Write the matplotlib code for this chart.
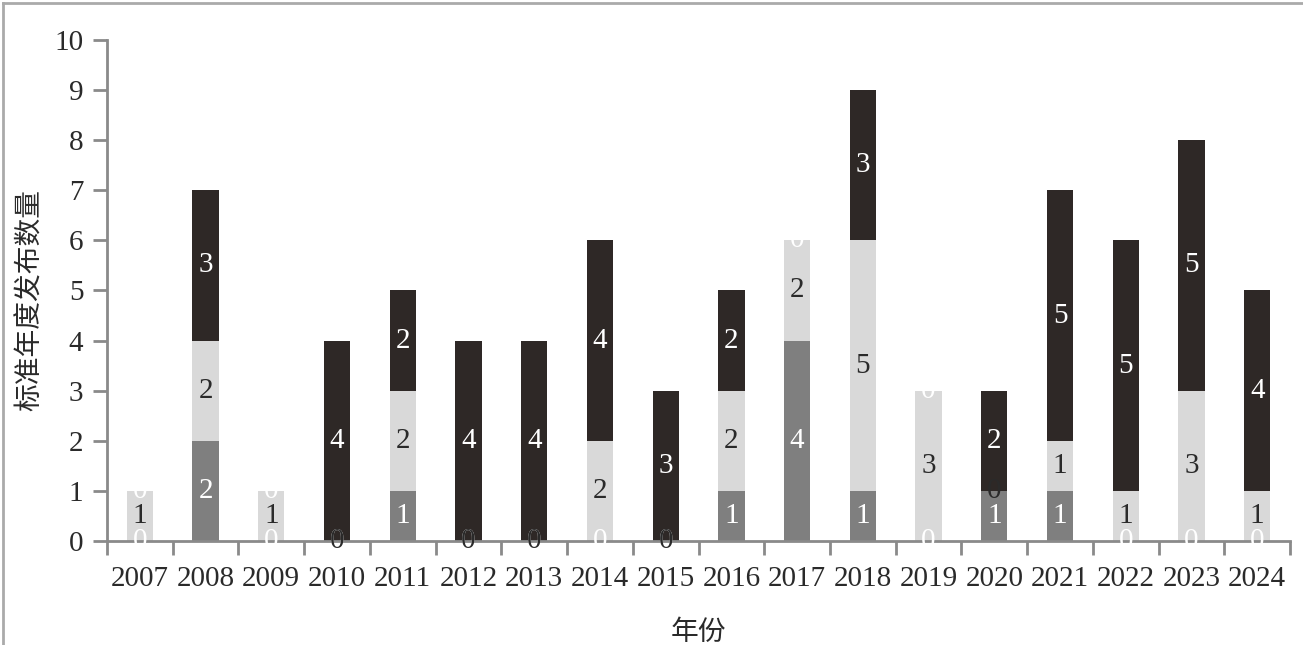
import numpy as np
import matplotlib
matplotlib.use("Agg")
import matplotlib.pyplot as plt
from matplotlib.lines import Line2D

plt.rcParams['font.family'] = ['Liberation Serif', 'Noto Sans CJK SC', 'DejaVu Sans']

years = ['2007', '2008', '2009', '2010', '2011', '2012', '2013', '2014', '2015',
         '2016', '2017', '2018', '2019', '2020', '2021', '2022', '2023', '2024']
# three stacked series, bottom to top
bottom_vals = [0, 2, 0, 0, 1, 0, 0, 0, 0, 1, 4, 1, 0, 1, 1, 0, 0, 0]
middle_vals = [1, 2, 1, 0, 2, 0, 0, 2, 0, 2, 2, 5, 3, 0, 1, 1, 3, 1]
top_vals = [0, 3, 0, 4, 2, 4, 4, 4, 3, 2, 0, 3, 0, 2, 5, 5, 5, 4]

colors = ['#7f7f7f', '#d9d9d9', '#2e2826']
text_colors = ['white', '#2a2a2a', 'white']
axis_color = '#8a8a8a'
fs = 21

fig = plt.figure(figsize=(13.03, 6.45), dpi=100)
ax = fig.add_axes([0.0821, 0.1612, 0.908, 0.777])

x = np.arange(len(years))
base = np.zeros(len(years))
series = [bottom_vals, middle_vals, top_vals]
for vals, c, tc in zip(series, colors, text_colors):
    vals = np.array(vals, dtype=float)
    ax.bar(x, vals, width=0.4, bottom=base, color=c, zorder=2)
    for xi, b, v in zip(x, base, vals):
        ax.text(xi, b + v / 2, f'{int(v)}', ha='center', va='center',
                color=tc, fontsize=fs, zorder=4)
    base = base + vals

ax.set_xlim(-0.5, len(years) - 0.5)
ax.set_ylim(0, 10)
ax.set_yticks(range(0, 11))
ax.set_xticks(x)
ax.set_xticklabels(years)
ax.set_xticks(np.arange(-0.5, len(years)), minor=True)
ax.tick_params(axis='x', which='major', length=0, pad=18, labelsize=fs)
ax.tick_params(axis='x', which='minor', length=10, width=2, color=axis_color)
ax.tick_params(axis='y', length=10, width=2, color=axis_color, pad=7, labelsize=fs)

for s in ['top', 'right']:
    ax.spines[s].set_visible(False)
for s in ['left', 'bottom']:
    ax.spines[s].set_color(axis_color)
    ax.spines[s].set_linewidth(2)
    ax.spines[s].set_zorder(3)

ax.set_xlabel('年份', fontsize=20, family=['Noto Sans CJK SC'], labelpad=18, color='#2a2a2a')
ax.set_ylabel('标准年度发布数量', fontsize=20, family=['Noto Sans CJK SC'], labelpad=7,
              color='#2a2a2a', y=0.48)
for lab in ax.get_xticklabels() + ax.get_yticklabels():
    lab.set_color('#2a2a2a')

# thin frame around the figure (top and left visible)
fig.add_artist(Line2D([0.002, 1.0], [0.995, 0.995], transform=fig.transFigure, color='#aaaaaa', lw=2))
fig.add_artist(Line2D([0.002, 0.002], [0.0, 0.995], transform=fig.transFigure, color='#aaaaaa', lw=2))

fig.savefig('out.png', dpi=100)
